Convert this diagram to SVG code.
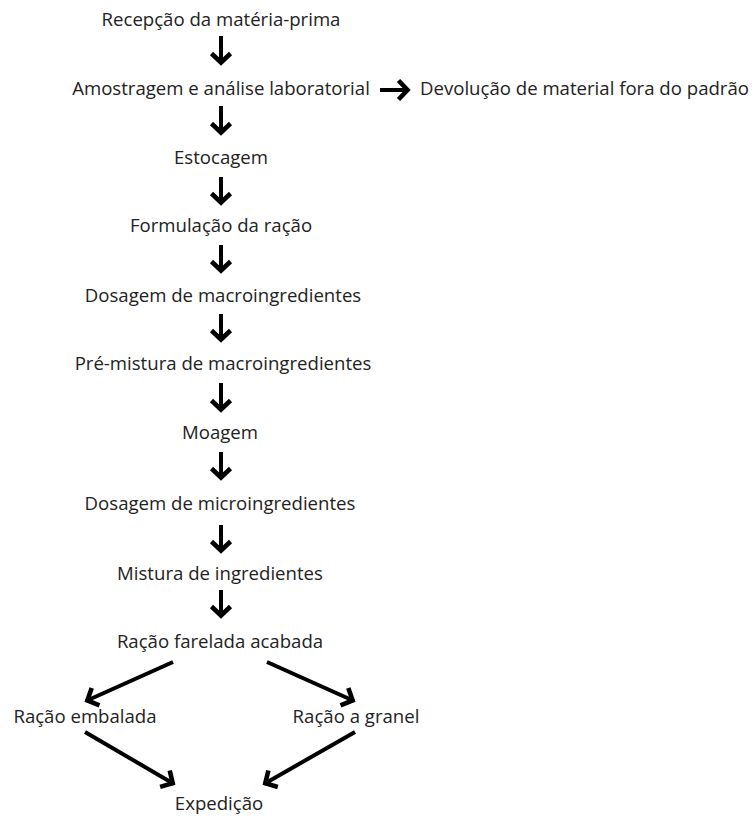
<svg xmlns="http://www.w3.org/2000/svg" width="753" height="816" viewBox="0 0 753 816">
<defs>
<style>
text{font-family:"Open Sans","Noto Sans","Liberation Sans",sans-serif;font-size:18.6px;fill:#222;}
.c{text-anchor:middle;}
.a{stroke:#000;stroke-width:4;fill:none;marker-end:url(#h);}
</style>
<marker id="h" viewBox="-14 -12 16 24" refX="0" refY="0" markerWidth="16" markerHeight="24" markerUnits="userSpaceOnUse" orient="auto">
<path d="M -10.5 -9.5 L -1.5 0 L -10.5 9.5" stroke="#000" stroke-width="4.6" fill="none" stroke-linejoin="miter"/>
</marker>
</defs>
<rect width="753" height="816" fill="#fff"/>
<g id="n1"><text class="c" x="221" y="26">Recepção da matéria-prima</text></g>
<g id="n2"><text class="c" x="221" y="95">Amostragem e análise laboratorial</text></g>
<g id="n3"><text x="420" y="95">Devolução de material fora do padrão</text></g>
<g id="n4"><text class="c" x="221" y="164">Estocagem</text></g>
<g id="n5"><text class="c" x="221" y="232">Formulação da ração</text></g>
<g id="n6"><text class="c" x="223" y="302">Dosagem de macroingredientes</text></g>
<g id="n7"><text class="c" x="223" y="370">Pré-mistura de macroingredientes</text></g>
<g id="n8"><text class="c" x="220" y="439">Moagem</text></g>
<g id="n9"><text class="c" x="220" y="510">Dosagem de microingredientes</text></g>
<g id="n10"><text class="c" x="220" y="580">Mistura de ingredientes</text></g>
<g id="n11"><text class="c" x="220" y="648">Ração farelada acabada</text></g>
<g id="n12"><text class="c" x="85" y="723">Ração embalada</text></g>
<g id="n13"><text class="c" x="356" y="723">Ração a granel</text></g>
<g id="n14"><text class="c" x="219" y="810">Expedição</text></g>
<g id="connectors">
<path class="a" d="M221 36 V64"/>
<path class="a" d="M221 106 V134"/>
<path class="a" d="M221 177 V204"/>
<path class="a" d="M221 245 V272"/>
<path class="a" d="M221 314 V341"/>
<path class="a" d="M221 383 V411"/>
<path class="a" d="M221 452 V479"/>
<path class="a" d="M221 525 V552"/>
<path class="a" d="M221 590 V617"/>
<path class="a" d="M380 90 H409"/>
<path class="a" d="M173 662 L86 701"/>
<path class="a" d="M267 662 L354 701"/>
<path class="a" d="M85 732 L174 784"/>
<path class="a" d="M355 732 L264 784"/>
</g>
</svg>
